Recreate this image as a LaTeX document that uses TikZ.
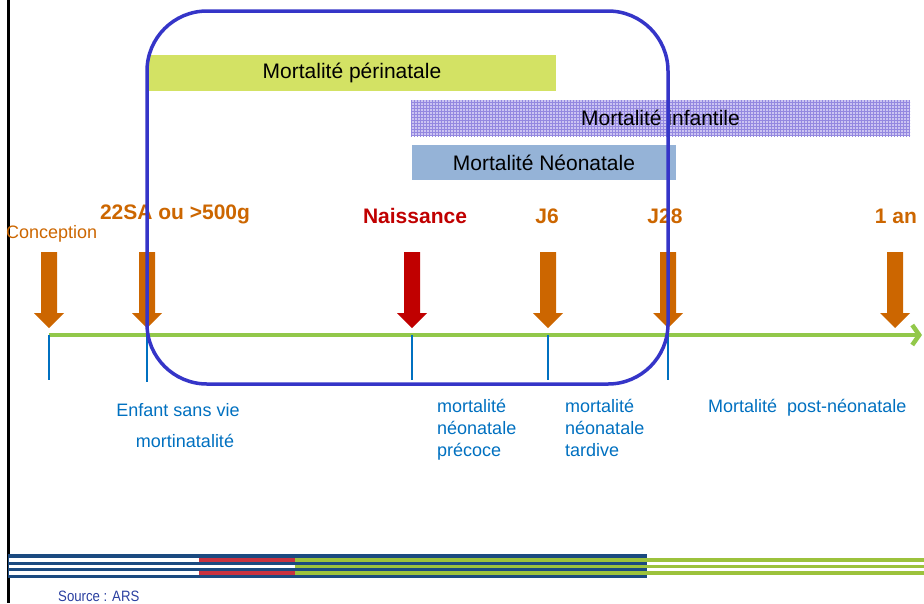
\documentclass[tikz,border=0pt]{standalone}
\usepackage{fontspec}
\setmainfont{Liberation Sans}
\newfontfamily\narrowsf[FakeStretch=0.88]{Liberation Sans}
\usepackage{tikz}
\usetikzlibrary{arrows.meta, patterns, positioning}
\definecolor{cFrame}    {HTML}{3535C8}
\definecolor{cPeri}     {HTML}{D3E264}
\definecolor{cNeo}      {HTML}{95B3D7}
\definecolor{cInfBase}  {HTML}{CCC4F2}
\definecolor{cInfGrid}  {HTML}{9488E0}
\definecolor{cAxis}     {HTML}{92C84A}
\definecolor{cTick}     {HTML}{0070C0}
\definecolor{cDate}     {HTML}{CC6600}
\definecolor{cBirth}    {HTML}{C00000}
\definecolor{cBand}     {HTML}{1B4A80}
\definecolor{cBandRed}  {HTML}{C8323F}
\definecolor{cBandGreen}{HTML}{9CC23C}
\definecolor{cSource}   {HTML}{2A3FA0}

% block arrow pointing down onto the time line
\newcommand{\blockdown}[2]{%
  \fill[#2] ({#1-8},252) -- ({#1+8},252) -- ({#1+8},313) -- ({#1+15},313)
    -- (#1,328) -- ({#1-15},313) -- ({#1-8},313) -- cycle;}

\begin{document}
\begin{tikzpicture}[x=1pt, y=-1pt,
    bar/.style={minimum height=36pt, inner sep=0pt, font=\fontsize{21}{25}\selectfont},
    datelbl/.style={inner sep=0pt, anchor=base, font=\bfseries\fontsize{21}{25}\selectfont, text=cDate},
    periodlbl/.style={inner sep=0pt, align=left, text=cTick, font=\fontsize{18}{22}\selectfont},
    tick/.style={draw=cTick, line width=1.5pt},
  ]
  \useasboundingbox (0,0) rectangle (924,603);
  \draw[line width=2.2pt] (8.5,0) -- (8.5,603);

  % periods
  \node[bar, fill=cPeri, minimum width=408pt] (peri) at (352,73) {Mortalité périnatale};
  \node[bar, fill=cInfBase, minimum width=499pt,
        postaction={pattern=grid, pattern color=cInfGrid}] (infant) at (660.5,118) {Mortalité infantile};
  \node[bar, fill=cNeo, minimum width=264pt, minimum height=35pt] (neo) at (544,162.5) {Mortalité Néonatale};

  % time line
  \coordinate (tConc) at (49,335);
  \coordinate (tSA)   at (147,335);
  \coordinate (tNais) at (412,335);
  \coordinate (tJsix) at (548,335);
  \coordinate (tJtw)  at (668,335);
  \coordinate (tEnd)  at (922,335);
  \draw[cAxis, line width=4.5pt, -{Straight Barb[length=7pt, width=20pt]}] (tConc) -- (tEnd);
  \draw[tick] (tConc) -- ++(0,45);
  \draw[tick] (tSA) -- ++(0,47);
  \draw[tick] (tNais) -- ++(0,45);
  \draw[tick] (tJsix) -- ++(0,45);
  \draw[tick] (tJtw) -- ++(0,45);

  \blockdown{49}{cDate}
  \blockdown{147}{cDate}
  \blockdown{412}{cBirth}
  \blockdown{548}{cDate}
  \blockdown{668}{cDate}
  \blockdown{895}{cDate}

  \node[inner sep=0pt, anchor=base west, text=cDate, font=\fontsize{18}{22}\selectfont] (lConc) at (6,238) {Conception};
  \node[datelbl] (lSA) at (175,219) {22SA ou >500g};
  \node[datelbl, text=cBirth] (lNais) at (415,223) {Naissance};
  \node[datelbl] (lJsix) at (547,223) {J6};
  \node[datelbl] (lJtw) at (665,223) {J28};
  \node[datelbl] (lAn) at (896,223) {1 an};

  % frame of the perinatal window
  \draw[cFrame, line width=3.5pt, rounded corners=60pt] (147,11) rectangle (668,384);

  \node[periodlbl, anchor=base] (enfant) at (178,416) {Enfant sans vie};
  \node[periodlbl, anchor=base] (mortin) at (185,447) {mortinatalité};
  \node[periodlbl, anchor=north west] (precoce) at (437,399) {mortalité\\néonatale\\précoce};
  \node[periodlbl, anchor=north west] (tardive) at (565,399) {mortalité\\néonatale\\tardive};
  \node[periodlbl, anchor=base west] (postneo) at (708,412) {Mortalité\ \ post-néonatale};

  % bottom stripes
  \fill[cBand] (8,554) rectangle (647,578);
  \draw[white, line width=3.2pt] (9,560) -- (199,560);
  \draw[white, line width=3.2pt] (9,566.5) -- (295,566.5);
  \draw[white, line width=3.2pt] (9,573) -- (199,573);
  \draw[cBandRed, line width=3.2pt] (199,560) -- (295,560);
  \draw[cBandRed, line width=3.2pt] (199,573) -- (295,573);
  \draw[cBandGreen, line width=3.2pt] (295,560) -- (924,560);
  \draw[cBandGreen, line width=3.2pt] (295,566.5) -- (924,566.5);
  \draw[cBandGreen, line width=3.2pt] (295,573) -- (924,573);

  \node[inner sep=0pt, anchor=base west, text=cSource, font=\narrowsf\fontsize{15}{17}\selectfont] (src) at (58,601) {Source : ARS};
\end{tikzpicture}
\end{document}
